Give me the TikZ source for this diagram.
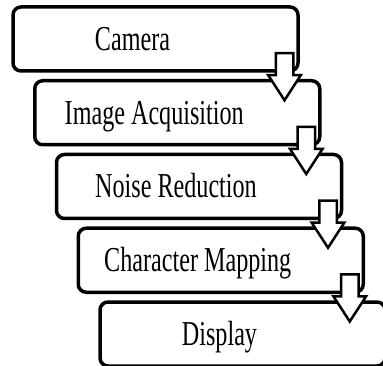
\documentclass[tikz,border=0pt]{standalone}
\usepackage{fontspec}
\usepackage{tikz}
\usetikzlibrary{
  positioning,
  shapes.arrows
}
\newfontfamily\stagefont{Liberation Serif}[FakeStretch=0.69]
\definecolor{fcInk}{HTML}{000000}
\definecolor{fcPaper}{HTML}{FFFFFF}
\tikzset{
  stage/.style={
    draw=fcInk, fill=fcPaper, line width=3.5pt, rounded corners=8pt,
    minimum width=285pt, minimum height=64pt, inner sep=0pt, outer sep=0pt
  },
  stagelabel/.style={
    font=\stagefont\fontsize{35}{40}\selectfont, text height=23pt, text depth=0pt,
    inner sep=0pt, xshift=-23pt
  },
  flowarrow/.style={
    single arrow, draw=fcInk, fill=fcPaper, line width=2.5pt, rotate=-90,
    minimum height=47pt, single arrow head extend=7.5pt, single arrow tip angle=66,
    single arrow head indent=0pt, inner xsep=0pt, inner ysep=7.5pt, anchor=tail
  }
}

\begin{document}
\begin{tikzpicture}[node distance=9.75pt]
  \useasboundingbox (0,0) rectangle (383pt,-366pt);
  \clip (0,0) rectangle (383pt,-366pt);
  % stages
  \node[stage, label={[stagelabel]center:Camera}] (cam) at (155.5pt,-39pt) {};
  \node[stage, below=of cam, xshift=21.75pt, label={[stagelabel]center:Image Acquisition}] (acq) {};
  \node[stage, below=of acq, xshift=21.75pt, label={[stagelabel]center:Noise Reduction}] (noise) {};
  \node[stage, below=of noise, xshift=21.75pt, label={[stagelabel]center:Character Mapping}] (charmap) {};
  \node[stage, below=of charmap, xshift=21.75pt, label={[stagelabel]center:Display}] (disp) {};
  % block arrows between stages
  \node[flowarrow] (arrA) at ([xshift=-13.5pt, yshift=19pt]cam.south east) {};
  \node[flowarrow] (arrB) at ([xshift=-13.5pt, yshift=19pt]acq.south east) {};
  \node[flowarrow] (arrC) at ([xshift=-13.5pt, yshift=19pt]noise.south east) {};
  \node[flowarrow] (arrD) at ([xshift=-13.5pt, yshift=19pt]charmap.south east) {};
\end{tikzpicture}
\end{document}
